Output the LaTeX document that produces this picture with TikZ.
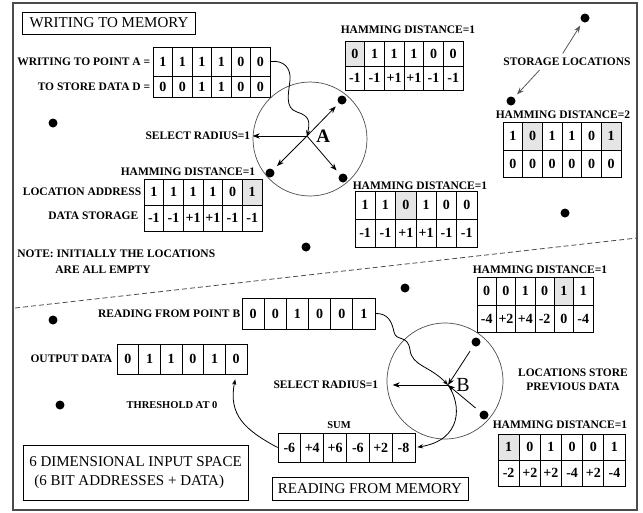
\documentclass[tikz,border=0pt]{standalone}
\usepackage{fontspec}
\setmainfont{Liberation Serif}
\usetikzlibrary{arrows.meta,positioning,calc}

\begin{document}
\begin{tikzpicture}[x=1pt,y=-1pt,line width=0.8pt]
      \tikzstyle{lbl}=[font=\fontsize{11.5}{14}\selectfont\bfseries,inner sep=0pt]
      \tikzstyle{small}=[font=\fontsize{10.5}{13}\selectfont\bfseries,inner sep=0pt]
      \tikzstyle{cell}=[draw,inner sep=0pt,font=\fontsize{14}{14}\selectfont\bfseries]
      \tikzstyle{dot}=[circle,fill,minimum size=9pt,inner sep=0pt]
      \tikzstyle{ring}=[circle,draw,black!70,line width=0.7pt,inner sep=0pt]
      \tikzstyle{title}=[draw,font=\fontsize{15}{19}\selectfont,inner sep=0pt]
      \useasboundingbox (0,0) rectangle (643,512);
      \draw[line width=1.2pt,black!70] (13,3) rectangle (637,510);
      % upper half: writing
      \node[title,minimum width=173pt,minimum height=22pt] (wtm) at (109,23) {WRITING TO MEMORY};
      \foreach \v [count=\i] in {1,1,1,1,0,0}
        \node[cell,minimum width=19.5pt,minimum height=29pt] (wa\i) at ({153+(\i-0.5)*19.5},61.5) {\v};
      \foreach \v [count=\i] in {0,0,1,1,0,0}
        \node[cell,minimum width=19.5pt,minimum height=21pt] (wd\i) at ({153+(\i-0.5)*19.5},86.5) {\v};
      \node[lbl,left=2pt of wa1] (wal) {WRITING TO POINT A =};
      \node[lbl,left=2pt of wd1] (wdl) {TO STORE DATA D =};
      \node[lbl] (hd1) at (408,30) {HAMMING DISTANCE=1};
      \foreach \v/\f [count=\i] in {0/gray!20,1/white,1/white,1/white,0/white,0/white}
        \node[cell,fill=\f,minimum width=19.67pt,minimum height=25pt] (ha\i) at ({345+(\i-0.5)*19.67},53.5) {\v};
      \foreach \v [count=\i] in {-1,-1,+1,+1,-1,-1}
        \node[cell,minimum width=19.67pt,minimum height=24pt] (hb\i) at ({345+(\i-0.5)*19.67},78) {\v};
      \node[lbl] (stor) at (567,62) {STORAGE LOCATIONS};
      \node[lbl] (hd2) at (563,115) {HAMMING DISTANCE=2};
      \foreach \v/\f [count=\i] in {1/white,0/gray!20,1/white,1/white,0/white,1/gray!20}
        \node[cell,fill=\f,minimum width=19.67pt,minimum height=28pt] (ka\i) at ({503+(\i-0.5)*19.67},136) {\v};
      \foreach \v [count=\i] in {0,0,0,0,0,0}
        \node[cell,minimum width=19.67pt,minimum height=27pt] (kb\i) at ({503+(\i-0.5)*19.67},163.5) {\v};
      \node[lbl] (hd3) at (188,172) {HAMMING DISTANCE=1};
      \foreach \v/\f [count=\i] in {1/white,1/white,1/white,1/white,0/white,1/gray!20}
        \node[cell,fill=\f,minimum width=19.67pt,minimum height=26pt] (la\i) at ({144+(\i-0.5)*19.67},192) {\v};
      \foreach \v [count=\i] in {-1,-1,+1,+1,-1,-1}
        \node[cell,minimum width=19.67pt,minimum height=26pt] (ld\i) at ({144+(\i-0.5)*19.67},218) {\v};
      \node[lbl,left=2pt of la1] (lal) {LOCATION ADDRESS};
      \node[lbl,left=5pt of ld1,yshift=2pt] (ldl) {DATA STORAGE};
      \node[lbl] (hd4) at (420,186) {HAMMING DISTANCE=1};
      \foreach \v/\f [count=\i] in {1/white,1/white,0/gray!20,1/white,0/white,0/white}
        \node[cell,fill=\f,minimum width=20.33pt,minimum height=28pt] (ma\i) at ({355+(\i-0.5)*20.33},205) {\v};
      \foreach \v [count=\i] in {-1,-1,+1,+1,-1,-1}
        \node[cell,minimum width=20.33pt,minimum height=28pt] (mb\i) at ({355+(\i-0.5)*20.33},233) {\v};
      \node[lbl,anchor=west] (note1) at (17,254) {NOTE: INITIALLY THE LOCATIONS};
      \node[lbl,anchor=west] (note2) at (55,270) {ARE ALL EMPTY};
      % circle A
      \node[ring,minimum size=114pt] (circA) at (310,139) {};
      \coordinate (cA) at (307,136);
      \node[font=\fontsize{19}{19}\selectfont\bfseries,inner sep=0pt,right=9pt of cA] (labA) {A};
      \node[dot] (d1) at (53,123) {};
      \node[dot] (da1) at (342,100) {};
      \node[dot] (da2) at (270,173) {};
      \node[dot] (da3) at (343,178) {};
      \node[dot] (dtop) at (585,18) {};
      \node[dot] (dlow) at (511,101) {};
      \node[dot] (d2) at (565,213) {};
      \node[dot] (d3) at (306,247) {};
      \node[lbl,anchor=east] (selA) at ([xshift=-2pt]cA -| circA.west) {SELECT RADIUS=1};
      \draw[-{Stealth[length=2.5mm]}] (cA) -- (cA -| circA.west);
      \draw[-{Stealth[length=2.5mm]}] (cA) -- (da1) [shorten >=4pt];
      \draw[-{Stealth[length=2.5mm]}, shorten >=5pt] (cA) -- (da2);
      \draw[-{Stealth[length=2.5mm]}, shorten >=5pt] (cA) -- (da3);
      \draw[-{Stealth[length=2mm]}] (wa6.east) .. controls (284,60) and (291,68) .. (290,80)
        .. controls (289,92) and (284,108) .. (297,112) .. controls (310,116) and (310,122) .. (cA);
      \draw[-{Stealth[length=2.5mm]},black!65,shorten <=5pt,shorten >=4pt] ([xshift=-7pt]stor.north) -- (dtop);
      \draw[-{Stealth[length=2.5mm]},black!65,shorten <=5pt,shorten >=4pt] ([xshift=-24pt]stor.south) -- (dlow);
      % dividing line
      \coordinate (cutl) at (15,308);
      \coordinate (cutr) at (637,238);
      \draw[dashed,black!70,dash pattern=on 5pt off 3pt] (cutl) -- (cutr);
      % lower half: reading
      \foreach \v [count=\i] in {0,0,1,0,0,1}
        \node[cell,minimum width=22.17pt,minimum height=31pt] (rb\i) at ({242+(\i-0.5)*22.17},313.5) {\v};
      \node[lbl,left=1pt of rb1] (rbl) {READING FROM POINT B};
      \foreach \v [count=\i] in {0,1,1,0,1,0}
        \node[cell,minimum width=21.67pt,minimum height=30pt] (od\i) at ({117+(\i-0.5)*21.67},359) {\v};
      \node[lbl,left=4pt of od1] (odl) {OUTPUT DATA};
      \node[small] (thr) at (172,405) {THRESHOLD AT 0};
      \node[title,minimum width=225pt,minimum height=55pt,align=left] (dim) at (135.5,472.5)
        {6 DIMENSIONAL INPUT SPACE\\\hspace{5pt}(6 BIT ADDRESSES + DATA)};
      \node[small] (sumlbl) at (339,425) {SUM};
      \foreach \v [count=\i] in {-6,+4,+6,-6,+2,-8}
        \node[cell,minimum width=22.83pt,minimum height=29pt] (su\i) at ({278+(\i-0.5)*22.83},447.5) {\v};
      \node[title,minimum width=196pt,minimum height=23pt] (rfm) at (370,488.5) {READING FROM MEMORY};
      \node[lbl] (hd5) at (540,270) {HAMMING DISTANCE=1};
      \foreach \v/\f [count=\i] in {0/white,0/white,1/white,0/white,1/gray!20,1/white}
        \node[cell,fill=\f,minimum width=19.33pt,minimum height=28pt] (pa\i) at ({477+(\i-0.5)*19.33},291) {\v};
      \foreach \v [count=\i] in {-4,+2,+4,-2,0,-4}
        \node[cell,minimum width=19.33pt,minimum height=27pt] (pb\i) at ({477+(\i-0.5)*19.33},318.5) {\v};
      \node[lbl,align=center] (prev) at (573,380) {LOCATIONS STORE\\PREVIOUS DATA};
      \node[lbl] (hd6) at (560,425) {HAMMING DISTANCE=1};
      \foreach \v/\f [count=\i] in {1/gray!20,0/white,1/white,0/white,0/white,1/white}
        \node[cell,fill=\f,minimum width=21.17pt,minimum height=26pt] (qa\i) at ({498+(\i-0.5)*21.17},447) {\v};
      \foreach \v [count=\i] in {-2,+2,+2,-4,+2,-4}
        \node[cell,minimum width=21.17pt,minimum height=26pt] (qb\i) at ({498+(\i-0.5)*21.17},473) {\v};
      % circle B
      \node[ring,minimum size=116pt] (circB) at (445,381) {};
      \coordinate (cB) at (448,385);
      \node[font=\fontsize{20}{20}\selectfont,inner sep=0pt,right=8pt of cB] (labB) {B};
      \node[dot] (d4) at (53,320) {};
      \node[dot] (d5) at (405,288) {};
      \node[dot] (d6) at (60,405) {};
      \node[dot] (db1) at (476,342) {};
      \node[dot] (db2) at (484,415) {};
      \node[lbl,anchor=east] (selB) at ([xshift=-8pt]cB -| circB.west) {SELECT RADIUS=1};
      \draw[-{Stealth[length=2.5mm]}] (cB) -- ([xshift=6pt]cB -| circB.west);
      \draw[-{Stealth[length=2.5mm]}, shorten <=6pt] (db1) -- (cB);
      \draw[-{Stealth[length=2.5mm]}, shorten <=6pt] (db2) -- (cB);
      \draw[-{Stealth[length=2mm]}] (rb6.east) .. controls (388,313) and (392,322) .. (394,332)
        .. controls (396,342) and (408,334) .. (410,350) .. controls (412,366) and (430,366) .. (cB);
      \draw[-{Stealth[length=2mm]}, shorten >=2pt] (cB) .. controls (462,405) and (462,440) .. (su6.east);
      \draw[-{Stealth[length=2mm]}, shorten >=5pt] (su1.west) .. controls (245,430) and (228,415) .. (od6.south);
    \end{tikzpicture}
\end{document}
